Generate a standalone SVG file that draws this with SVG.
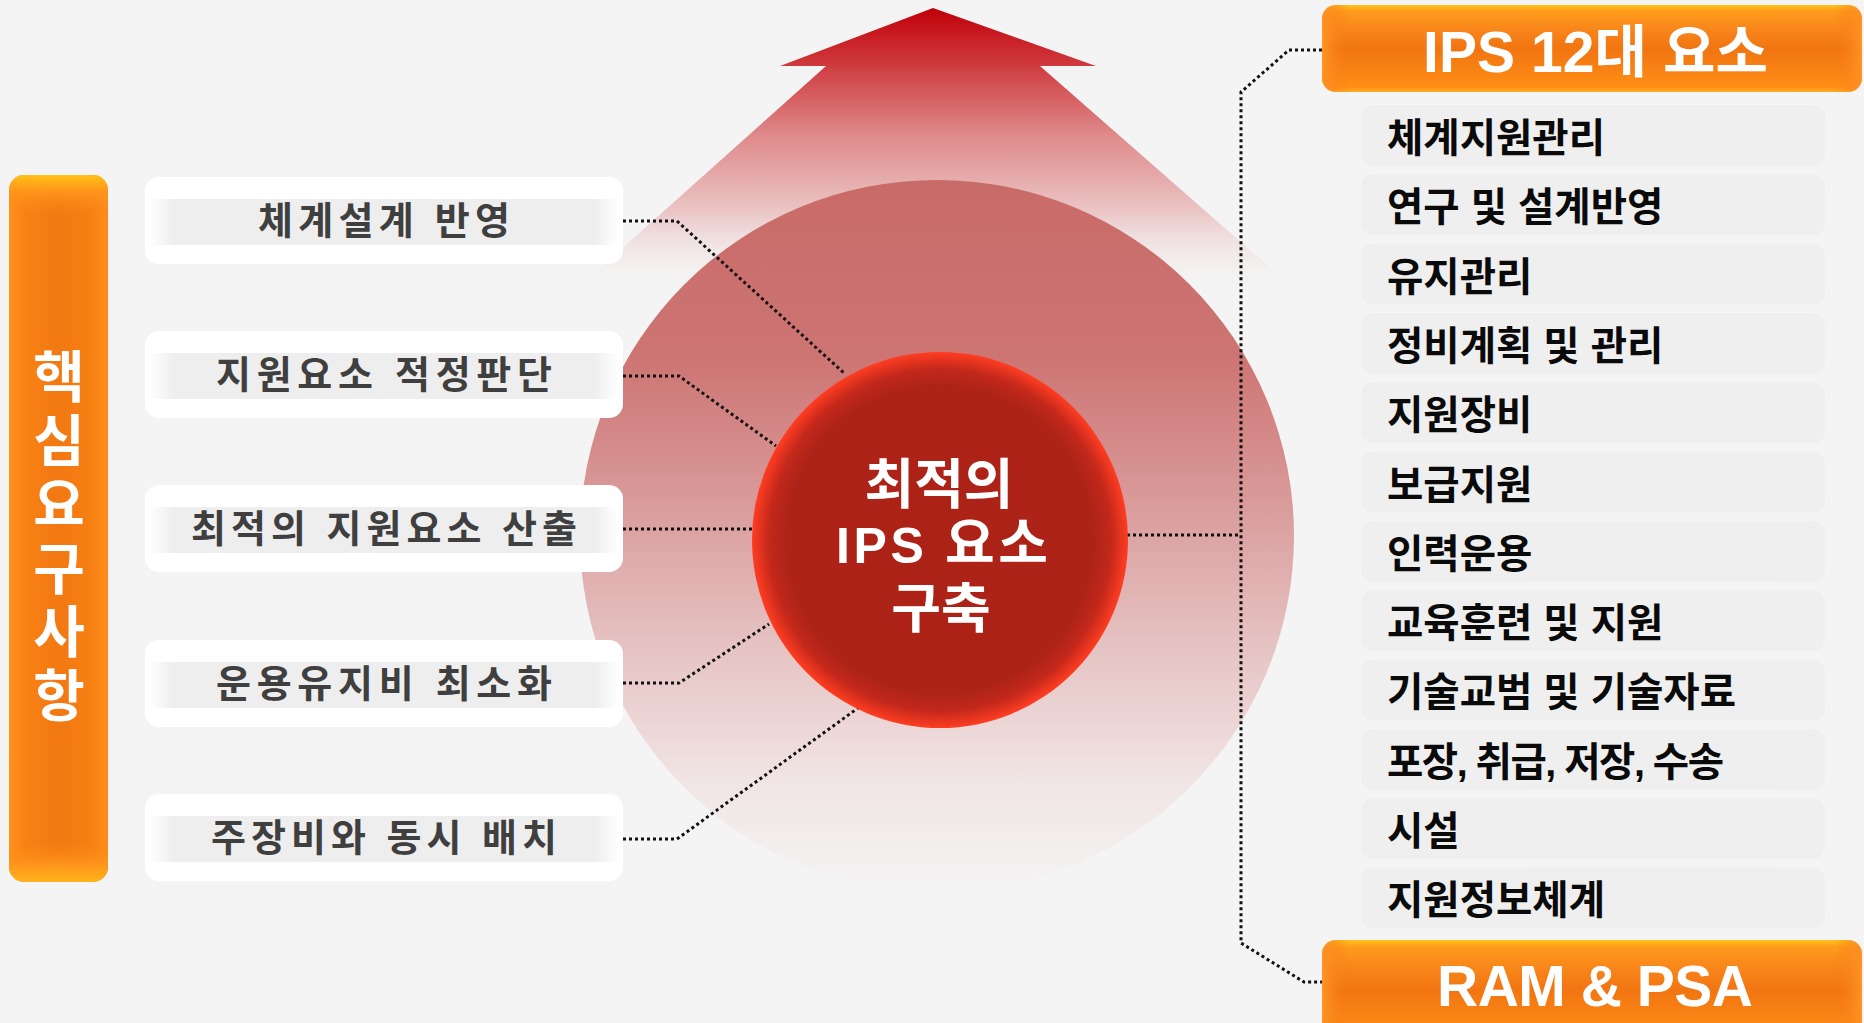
<svg xmlns="http://www.w3.org/2000/svg" width="1864" height="1023" viewBox="0 0 1864 1023">
<defs>
<style>
.kr{font-family:"Liberation Sans","Noto Sans CJK KR",sans-serif;font-weight:bold}
.ltxt{font-size:38px;fill:#3f3f3f;text-anchor:middle}
.rtxt{font-size:39.5px;fill:#0a0a0a}
.wtxt{fill:#ffffff;text-anchor:middle}
.lbox{fill:#ffffff}
.lband{fill:url(#bandGrad)}
.item{fill:#efefef}
.conn{fill:none;stroke:#111;stroke-width:3;stroke-dasharray:3 3}
</style>
<linearGradient id="arrowGrad" gradientUnits="userSpaceOnUse" x1="0" y1="8" x2="0" y2="292">
<stop offset="0" stop-color="#c00008"/>
<stop offset="0.2" stop-color="#cf3a3e"/>
<stop offset="0.45" stop-color="#df8a8b"/>
<stop offset="0.72" stop-color="#ebc6c6"/>
<stop offset="1" stop-color="#f4f4f4" stop-opacity="0"/>
</linearGradient>
<linearGradient id="eggGrad" gradientUnits="userSpaceOnUse" x1="0" y1="180" x2="0" y2="892">
<stop offset="0" stop-color="#c86a68"/>
<stop offset="0.25" stop-color="#cd7573"/>
<stop offset="0.45" stop-color="#d99a9a"/>
<stop offset="0.65" stop-color="#e6c2c2"/>
<stop offset="0.85" stop-color="#f1e5e5"/>
<stop offset="1" stop-color="#f4f4f4"/>
</linearGradient>
<radialGradient id="ballGrad" cx="0.5" cy="0.5" r="0.5">
<stop offset="0" stop-color="#ad2217"/>
<stop offset="0.82" stop-color="#ae2318"/>
<stop offset="0.91" stop-color="#c3281b"/>
<stop offset="1" stop-color="#ff3d22"/>
</radialGradient>
<linearGradient id="bandGrad" x1="0" y1="0" x2="1" y2="0">
<stop offset="0" stop-color="#ffffff"/>
<stop offset="0.05" stop-color="#eeeeee"/>
<stop offset="0.95" stop-color="#eeeeee"/>
<stop offset="1" stop-color="#ffffff"/>
</linearGradient>
<linearGradient id="orangeH" x1="0" y1="0" x2="0" y2="1">
<stop offset="0" stop-color="#ffc418"/>
<stop offset="0.07" stop-color="#ff9a1c"/>
<stop offset="0.3" stop-color="#f8841a"/>
<stop offset="0.5" stop-color="#f17511"/>
<stop offset="0.78" stop-color="#fa8414"/>
<stop offset="0.94" stop-color="#ff8e14"/>
<stop offset="1" stop-color="#ffad24"/>
</linearGradient>
<linearGradient id="orangeSide" x1="0" y1="0" x2="1" y2="0">
<stop offset="0" stop-color="#ff9326"/>
<stop offset="0.05" stop-color="#f47a12" stop-opacity="0"/>
<stop offset="0.95" stop-color="#f47a12" stop-opacity="0"/>
<stop offset="1" stop-color="#ff9326"/>
</linearGradient>
<linearGradient id="orangeV" x1="0" y1="0" x2="1" y2="0">
<stop offset="0" stop-color="#ff931f"/>
<stop offset="0.15" stop-color="#f98214"/>
<stop offset="0.5" stop-color="#f27812"/>
<stop offset="0.85" stop-color="#f78113"/>
<stop offset="1" stop-color="#ff8d1e"/>
</linearGradient>
<linearGradient id="orangeCap" x1="0" y1="0" x2="0" y2="1">
<stop offset="0" stop-color="#ffc214"/>
<stop offset="0.02" stop-color="#ff9a1c"/>
<stop offset="0.06" stop-color="#f98214" stop-opacity="0"/>
<stop offset="0.94" stop-color="#f98214" stop-opacity="0"/>
<stop offset="0.98" stop-color="#ff9a1c"/>
<stop offset="1" stop-color="#ffb41c"/>
</linearGradient>
</defs>

<rect x="0" y="0" width="1864" height="1023" fill="#f4f4f4"/>

<g id="background-arrow">
<polygon points="933,8 1096,66 1040,66 1292,287 579,287 826,66 780,66" fill="url(#arrowGrad)"/>
<ellipse cx="937" cy="536" rx="357" ry="356" fill="url(#eggGrad)"/>
</g>

<g id="connectors">
<polyline class="conn" points="623,221 677,221 845,374"/>
<polyline class="conn" points="623,376 679,376 776,446"/>
<polyline class="conn" points="623,529 752,529"/>
<polyline class="conn" points="623,683 679,683 769,624"/>
<polyline class="conn" points="623,839 677,839 858,708"/>
<polyline class="conn" points="1127,535 1241,535"/>
<polyline class="conn" points="1322,50 1289,50 1241,92 1241,943 1304,982 1322,982"/>
</g>

<g id="core-requirements">
<rect x="9" y="175" width="99" height="707" rx="15" fill="url(#orangeV)"/>
<rect x="9" y="175" width="99" height="707" rx="15" fill="url(#orangeCap)"/>
<text class="kr wtxt" font-size="56" x="59" y="397">핵</text>
<text class="kr wtxt" font-size="56" x="59" y="461">심</text>
<text class="kr wtxt" font-size="56" x="59" y="525">요</text>
<text class="kr wtxt" font-size="56" x="59" y="589">구</text>
<text class="kr wtxt" font-size="56" x="59" y="652">사</text>
<text class="kr wtxt" font-size="56" x="59" y="716">항</text>
</g>

<g id="req-1">
<rect class="lbox" x="145" y="177" width="478" height="87" rx="14"/>
<rect class="lband" x="150" y="199" width="468" height="46"/>
<text class="kr ltxt" x="384" y="234" textLength="252" lengthAdjust="spacing">체계설계 반영</text>
</g>
<g id="req-2">
<rect class="lbox" x="145" y="331" width="478" height="87" rx="14"/>
<rect class="lband" x="150" y="353" width="468" height="46"/>
<text class="kr ltxt" x="384" y="388" textLength="336" lengthAdjust="spacing">지원요소 적정판단</text>
</g>
<g id="req-3">
<rect class="lbox" x="145" y="485" width="478" height="87" rx="14"/>
<rect class="lband" x="150" y="507" width="468" height="46"/>
<text class="kr ltxt" x="384" y="542" textLength="386" lengthAdjust="spacing">최적의 지원요소 산출</text>
</g>
<g id="req-4">
<rect class="lbox" x="145" y="640" width="478" height="87" rx="14"/>
<rect class="lband" x="150" y="662" width="468" height="46"/>
<text class="kr ltxt" x="384" y="697" textLength="336" lengthAdjust="spacing">운용유지비 최소화</text>
</g>
<g id="req-5">
<rect class="lbox" x="145" y="794" width="478" height="87" rx="14"/>
<rect class="lband" x="150" y="816" width="468" height="46"/>
<text class="kr ltxt" x="384" y="851" textLength="346" lengthAdjust="spacing">주장비와 동시 배치</text>
</g>

<g id="center">
<circle cx="940" cy="540" r="188" fill="url(#ballGrad)"/>
<text class="kr wtxt" font-size="54" x="939" y="504">최적의</text>
<text class="kr wtxt" font-size="54" x="942" y="563" textLength="212" lengthAdjust="spacing"><tspan font-size="50">IPS </tspan>요소</text>
<text class="kr wtxt" font-size="54" x="941" y="628">구축</text>
</g>

<g id="ips-header">
<rect x="1322" y="5" width="540" height="87" rx="14" fill="url(#orangeH)"/>
<rect x="1322" y="5" width="540" height="87" rx="14" fill="url(#orangeSide)"/>
<text class="kr" font-size="57" fill="#fff" x="1423" y="72" textLength="345" lengthAdjust="spacing">IPS 12대 요소</text>
</g>

<g id="ips-items">
<rect class="item" x="1361" y="105" width="464" height="61" rx="12"/>
<text class="kr rtxt" x="1387" y="152">체계지원관리</text>
<rect class="item" x="1361" y="174.3" width="464" height="61" rx="12"/>
<text class="kr rtxt" x="1387" y="221.3">연구 및 설계반영</text>
<rect class="item" x="1361" y="243.6" width="464" height="61" rx="12"/>
<text class="kr rtxt" x="1387" y="290.6">유지관리</text>
<rect class="item" x="1361" y="312.9" width="464" height="61" rx="12"/>
<text class="kr rtxt" x="1387" y="359.9">정비계획 및 관리</text>
<rect class="item" x="1361" y="382.2" width="464" height="61" rx="12"/>
<text class="kr rtxt" x="1387" y="429.2">지원장비</text>
<rect class="item" x="1361" y="451.5" width="464" height="61" rx="12"/>
<text class="kr rtxt" x="1387" y="498.5">보급지원</text>
<rect class="item" x="1361" y="520.8" width="464" height="61" rx="12"/>
<text class="kr rtxt" x="1387" y="567.8">인력운용</text>
<rect class="item" x="1361" y="590.1" width="464" height="61" rx="12"/>
<text class="kr rtxt" x="1387" y="637.1">교육훈련 및 지원</text>
<rect class="item" x="1361" y="659.4" width="464" height="61" rx="12"/>
<text class="kr rtxt" x="1387" y="706.4">기술교범 및 기술자료</text>
<rect class="item" x="1361" y="728.7" width="464" height="61" rx="12"/>
<text class="kr rtxt" x="1387" y="775.7" textLength="337" lengthAdjust="spacing">포장, 취급, 저장, 수송</text>
<rect class="item" x="1361" y="798" width="464" height="61" rx="12"/>
<text class="kr rtxt" x="1387" y="845">시설</text>
<rect class="item" x="1361" y="867.3" width="464" height="61" rx="12"/>
<text class="kr rtxt" x="1387" y="914.3">지원정보체계</text>
</g>

<g id="ram-psa">
<rect x="1322" y="940" width="540" height="100" rx="14" fill="url(#orangeH)"/>
<rect x="1322" y="940" width="540" height="100" rx="14" fill="url(#orangeSide)"/>
<text class="kr" font-size="57" fill="#fff" x="1437" y="1006" textLength="316" lengthAdjust="spacing">RAM &amp; PSA</text>
</g>
</svg>
